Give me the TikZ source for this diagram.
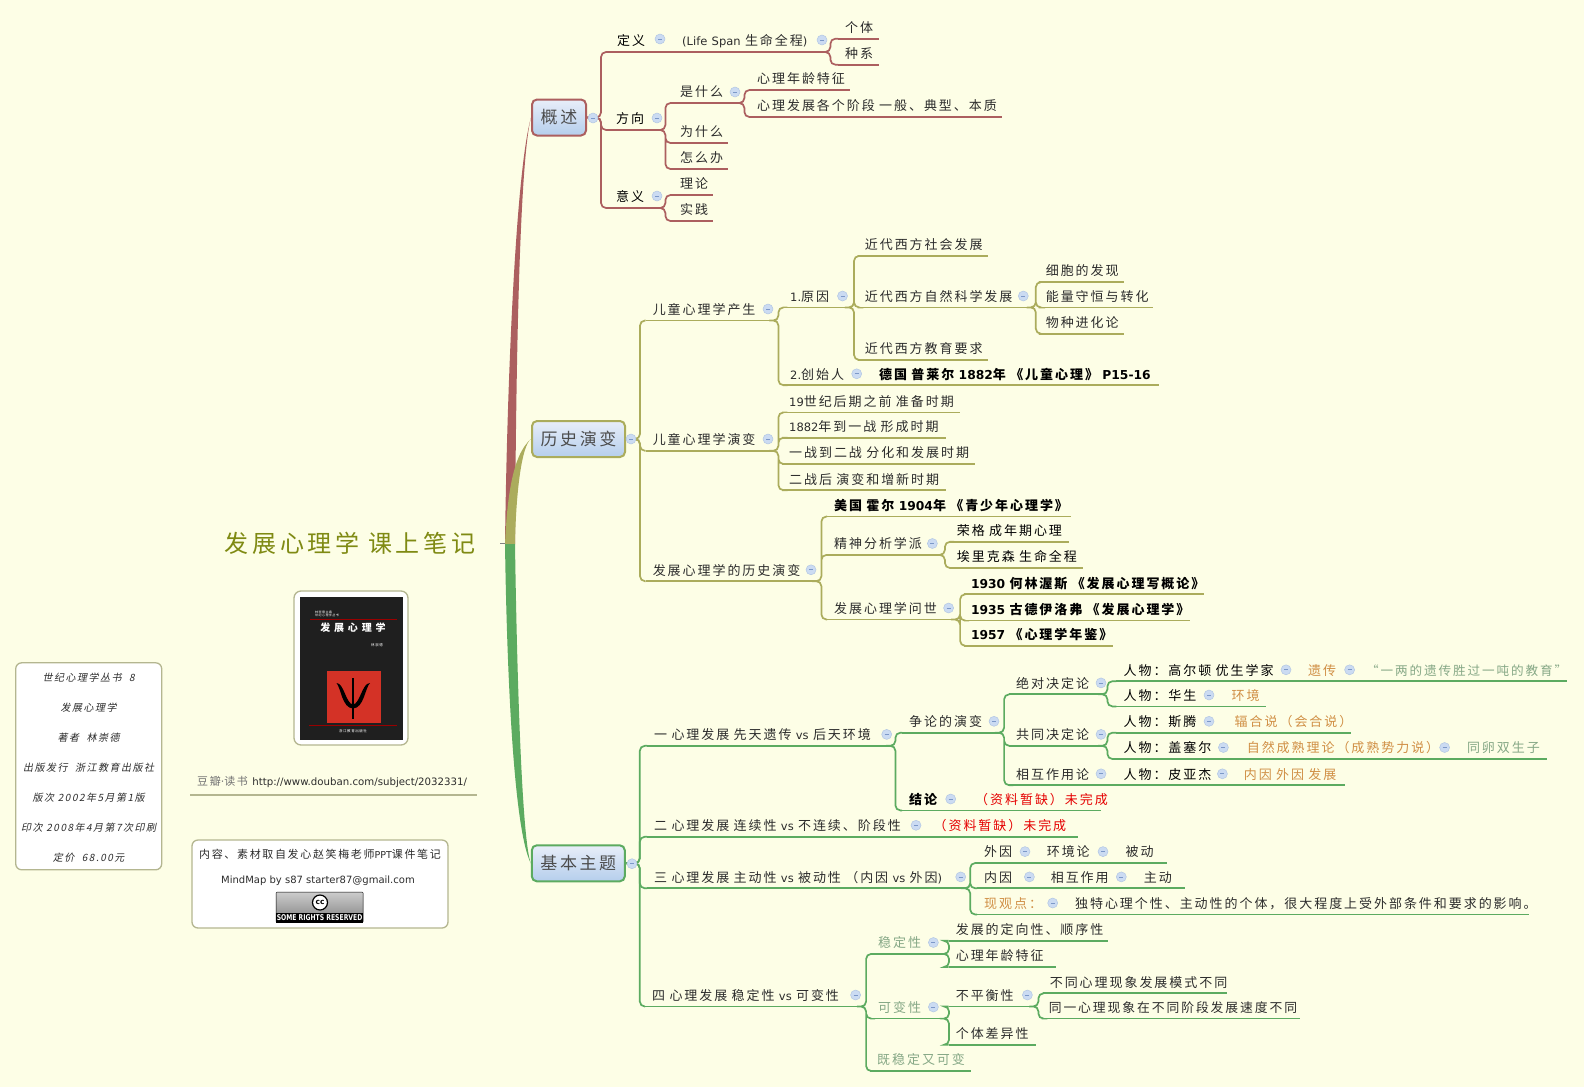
\documentclass[tikz,border=0pt]{standalone}
\usepackage{fontspec}
\setmainfont[LetterSpace=15]{Noto Sans CJK SC}
\newfontfamily\slantfont[FakeSlant=0.2,LetterSpace=15]{Noto Sans CJK SC}
\newfontfamily\enfont{DejaVu Sans}
\providecommand{\en}[1]{{\enfont\fontsize{11.5}{14}\selectfont #1}}
\providecommand{\enb}[1]{{\enfont\fontsize{12.3}{14}\selectfont #1}}
\providecommand{\branchto}[2]{(#1.south east) -- ++(2,0) |- (#2.south west)}
\providecommand{\chainto}[2]{(#1.south east) -- (#2.south west)}
\definecolor{pagebg}{HTML}{FDFEE6}
\definecolor{branchred}{HTML}{AC5F5F}
\definecolor{brancholive}{HTML}{ABAC5C}
\definecolor{branchgreen}{HTML}{5CAB60}
\definecolor{framegray}{HTML}{B4B690}
\definecolor{textdark}{HTML}{2C2C2C}
\definecolor{textorange}{HTML}{D08F45}
\definecolor{textsage}{HTML}{86A886}
\definecolor{titleolive}{HTML}{7F8A13}
\definecolor{foldfill}{HTML}{CBDBF2}
\definecolor{foldline}{HTML}{B3C7E3}
\definecolor{foldminus}{HTML}{7C98C8}
\definecolor{boxtop}{HTML}{E8EEF9}
\definecolor{boxbottom}{HTML}{B5CEEC}
\definecolor{coverred}{HTML}{D43226}
\tikzset{
  topic/.style 2 args={anchor=south west,inner xsep=7pt,inner ysep=0pt,text height=14pt,text depth=6pt,
    align=left,text width=#2,text=textdark,font=\fontsize{13}{16}\selectfont,
    append after command={(\tikzlastnode.south west) edge[draw=#1,line width=1.7pt] (\tikzlastnode.south east)}},
  redtopic/.style={topic={branchred}{#1}},
  olivetopic/.style={topic={brancholive}{#1}},
  greentopic/.style={topic={branchgreen}{#1}},
  boldtopic/.style={font=\fontsize{13}{16}\bfseries\selectfont,text=black},
  redlink/.style={draw=branchred,line width=1.7pt,rounded corners=5pt},
  olivelink/.style={draw=brancholive,line width=1.7pt,rounded corners=5pt},
  greenlink/.style={draw=branchgreen,line width=1.7pt,rounded corners=5pt},
  mainbox/.style={rounded corners=5pt,line width=2pt,top color=boxtop,bottom color=boxbottom,
    minimum height=36pt,inner sep=0pt,text=black!70,font=\fontsize{17}{20}\selectfont},
  fold/.style={circle,minimum size=10pt,inner sep=0pt,fill=foldfill,draw=foldline,line width=.5pt,
    path picture={\draw[foldminus,line width=.7pt] ([xshift=-2pt]path picture bounding box.center) -- ([xshift=2pt]path picture bounding box.center);}},
  notebox/.style={draw=framegray,line width=1.3pt,fill=white,rounded corners=6pt,inner sep=0pt},
  covertext/.style={inner sep=0pt,text=white}
}
\begin{document}
\begin{tikzpicture}[x=1pt,y=-1pt]
    \pgfmathsetmacro{\pagewidth}{1584}
    \pgfmathsetmacro{\pageheight}{1087}
    \pgfmathsetmacro{\boxwidth}{93}
    \fill[pagebg] (0,0) rectangle (\pagewidth,\pageheight);
    \useasboundingbox (0,0) rectangle (\pagewidth,\pageheight);

    % centre
    \node[minimum width=300pt,inner sep=0pt,text=titleolive,font=\fontsize{24}{28}\selectfont] (title) at (350,543) {发展心理学~课上笔记};
    \coordinate (hub) at (505,543);
    \coordinate (hubleft) at (505,544);
    \coordinate (hubright) at (515,544);
    \node[mainbox,draw=branchred,minimum width=54pt] (gaishu) at (559,117.5) {概述};
    \node[mainbox,draw=brancholive,minimum width=\boxwidth*1pt] (yanbianbox) at (578.5,439) {历史演变};
    \node[mainbox,draw=branchgreen,minimum width=\boxwidth*1pt] (jiben) at (578.3,863.3) {基本主题};
    \fill[branchred] (hubleft) .. controls (507,380) and (516,170) .. (gaishu.west) .. controls (520,160) and (516,350) .. (hubright) -- cycle;
    \fill[brancholive] (hubleft) .. controls (507,500) and (512,455) .. (yanbianbox.west) .. controls (522,445) and (516,490) .. (hubright) -- cycle;
    \fill[branchgreen] (hubleft) .. controls (507,680) and (514,830) .. (jiben.west) .. controls (522,840) and (517,680) .. (hubright) -- cycle;
    \draw[black!50,line width=1pt] (title.east) -- (hub);

    % book cover
    \node[notebox,rounded corners=7pt,minimum width=114pt,minimum height=154pt] (coverframe) at (351,668) {};
    \node[fill=black!88,inner sep=0pt,minimum width=103pt,minimum height=143pt] (cover) at (351.5,668.5) {};
    \node[covertext,font=\fontsize{3}{3.6}\selectfont,align=left] (coverseries) at (327,614) {林崇德主编\\世纪心理学丛书};
    \node[coordinate] (linea) at (310,619) {};
    \node[coordinate] (lineb) at (397,619) {};
    \draw[red!60!black,line width=.9pt] (linea) -- (lineb);
    \node[covertext,font=\fontsize{10}{12}\bfseries\selectfont] (covertitle) at (353,628) {发~展~心~理~学};
    \node[covertext,font=\fontsize{3.5}{4}\selectfont] (coverauthor) at (377,645) {林崇德};
    \node[fill=coverred,inner sep=0pt,minimum width=54pt,minimum height=52pt] (coversquare) at (354,697) {};
    \fill[black] (336.5,683) .. controls (344,683) and (346,704) .. (353,704.5) .. controls (360,704) and (362,683) .. (370,683) .. controls (365,688) and (364,708) .. (353,708.5) .. controls (342,708) and (341,688) .. (336.5,683) -- cycle;
    \draw[black,line width=2pt] (353,678) -- (353,719);
    \node[coordinate] (linec) at (309,725) {};
    \node[coordinate] (lined) at (397,725) {};
    \draw[red!60!black,line width=.9pt] (linec) -- (lined);
    \node[covertext,font=\fontsize{3.5}{4}\selectfont] (coverpress) at (353,731) {浙江教育出版社};

    % notes on the left
    \node[topic={framegray}{273},text depth=9pt] (douban) at (190,795) {{\fontsize{11}{12}\selectfont\textcolor{black!55}{豆瓣{\enfont·}读书}}~{\enfont\fontsize{10.2}{12}\selectfont http://www.douban.com/subject/2032331/}};
    \node[notebox,minimum width=146pt,minimum height=207pt] (bookinfo) at (88.7,766.3) {};
    \node[inner sep=0pt,align=center,font=\fontsize{10}{30}\slantfont\selectfont,text=textdark] (bookinfotext) at (88.7,767.8) {世纪心理学丛书~~8\\发展心理学\\著者~~林崇德\\出版发行~~浙江教育出版社\\版次~2002年5月第1版\\印次~2008年4月第7次印刷\\定价~~68.00元};
    \node[notebox,minimum width=256pt,minimum height=88pt] (credit) at (320,884) {};
    \node[inner sep=0pt,font=\fontsize{11}{12}\selectfont,text=textdark] (creditline) at (320,854) {内容、素材取自发心赵笑梅老师{\enfont\fontsize{9.5}{10}\selectfont PPT}课件笔记};
    \node[inner sep=0pt,font=\enfont\fontsize{10}{12}\selectfont,text=textdark] (mindmapby) at (318,881) {MindMap by s87 starter87@gmail.com};
    \node[draw=black,rounded corners=1pt,inner sep=0pt,top color=black!20,bottom color=black!50,minimum width=87pt,minimum height=30.5pt] (ccbadge) at (319.6,907.3) {};
    \node[fill=black,inner sep=0pt,minimum width=87pt,minimum height=10pt,text=white,font=\fontsize{8}{9}\bfseries\selectfont] (ccstrip) at (319.6,917.6) {\scalebox{.76}[1]{\enfont SOME RIGHTS RESERVED}};
    \node[circle,draw=black,line width=1.2pt,fill=white,inner sep=0pt,minimum size=15pt,font=\enfont\fontsize{7.5}{8}\bfseries\selectfont] (cclogo) at (320,902.5) {cc};

    % first branch
    \node[redtopic=51,text=black] (dingyi) at (610,52) {定义};
    \node[redtopic=139] (lifespan) at (675,52) {\en{(Life~Span}~生命全程\en{)}};
    \node[redtopic=27] (geti) at (838,38.7) {个体};
    \node[redtopic=27] (zhongxi) at (838,64.7) {种系};
    \node[redtopic=40,text=black] (fangxiang) at (609,130) {方向};
    \node[redtopic=55] (shishenme) at (673,103) {是什么};
    \node[redtopic=86] (nianling) at (750,90) {心理年龄特征};
    \node[redtopic=238] (jieduan) at (750,117) {心理发展各个阶段~一般、典型、本质};
    \node[redtopic=41] (weishenme) at (673,143) {为什么};
    \node[redtopic=41] (zenmeban) at (673,169) {怎么办};
    \node[redtopic=40,text=black] (yiyi) at (609,208) {意义};
    \node[redtopic=26] (lilun) at (673,195) {理论};
    \node[redtopic=26] (shijian) at (673,221) {实践};
    \draw[redlink] (gaishu.east) -- ++(14,0) |- (dingyi.south west);
    \draw[redlink] (gaishu.east) -- ++(14,0) |- (fangxiang.south west);
    \draw[redlink] (gaishu.east) -- ++(14,0) |- (yiyi.south west);
    \draw[redlink] \chainto{dingyi}{lifespan};
    \draw[redlink] \branchto{lifespan}{geti} \branchto{lifespan}{zhongxi};
    \draw[redlink] \branchto{fangxiang}{shishenme} \branchto{fangxiang}{weishenme} \branchto{fangxiang}{zenmeban};
    \draw[redlink] \branchto{shishenme}{nianling} \branchto{shishenme}{jieduan};
    \draw[redlink] \branchto{yiyi}{lilun} \branchto{yiyi}{shijian};

    % second branch
    \node[olivetopic=116.4] (chansheng) at (645.6,320.5) {儿童心理学产生};
    \node[olivetopic=54.6] (yuanyin) at (783,307.4) {\en{1.}原因};
    \node[olivetopic=116.3] (shehui) at (857.7,255.9) {近代西方社会发展};
    \node[olivetopic=161.7] (ziran) at (857.7,307.4) {近代西方自然科学发展};
    \node[olivetopic=70.7] (xibao) at (1038.6,282.1) {细胞的发现};
    \node[olivetopic=100] (nengliang) at (1038.6,307.4) {能量守恒与转化};
    \node[olivetopic=70.7] (wuzhong) at (1038.6,333.7) {物种进化论};
    \node[olivetopic=116.3] (jiaoyu) at (857.7,359.9) {近代西方教育要求};
    \node[olivetopic=75] (chuangshi) at (783,385.2) {\en{2.}创始人};
    \node[olivetopic=272.7,boldtopic] (preyer) at (872,385.2) {德国~普莱尔~\enb{1882}年~《儿童心理》~\enb{P15-16}};
    \node[olivetopic=116.4] (ertong) at (645.6,450.8) {儿童心理学演变};
    \node[olivetopic=163.7] (zhunbei) at (782,412.4) {\en{19}世纪后期之前~准备时期};
    \node[olivetopic=149.5] (xingcheng) at (782,437.7) {\en{1882}年到一战~形成时期};
    \node[olivetopic=179] (fenhua) at (782,464) {一战到二战~分化和发展时期};
    \node[olivetopic=149.5] (zengxin) at (782,490.2) {二战后~演变和增新时期};
    \node[olivetopic=159.4] (lishi) at (645.6,581.2) {发展心理学的历史演变};
    \node[olivetopic=230,boldtopic] (huoer) at (827,516.5) {美国~霍尔~\enb{1904}年~《青少年心理学》};
    \node[olivetopic=101.5] (jingshen) at (827,554.9) {精神分析学派};
    \node[olivetopic=105,text=black] (rongge) at (949.7,541.8) {荣格~成年期心理};
    \node[olivetopic=119.3,text=black] (erikson) at (949.7,568) {埃里克森~生命全程};
    \node[olivetopic=116.7] (wenshi) at (827,619.5) {发展心理学问世};
    \node[olivetopic=226.2,boldtopic] (hewo) at (963.8,594.3) {\enb{1930}~何林渥斯~《发展心理写概论》};
    \node[olivetopic=212.2,boldtopic] (gude) at (963.8,620.6) {\enb{1935}~古德伊洛弗~《发展心理学》};
    \node[olivetopic=135.2,boldtopic] (nianjian) at (963.8,645.8) {\enb{1957}~《心理学年鉴》};
    \draw[olivelink] (yanbianbox.east) -- ++(14,0) |- (chansheng.south west);
    \draw[olivelink] (yanbianbox.east) -- ++(14,0) |- (ertong.south west);
    \draw[olivelink] (yanbianbox.east) -- ++(14,0) |- (lishi.south west);
    \draw[olivelink] \branchto{chansheng}{yuanyin} \branchto{chansheng}{chuangshi};
    \draw[olivelink] \branchto{yuanyin}{shehui} \branchto{yuanyin}{ziran} \branchto{yuanyin}{jiaoyu};
    \draw[olivelink] \branchto{ziran}{xibao} \branchto{ziran}{nengliang} \branchto{ziran}{wuzhong};
    \draw[olivelink] \chainto{chuangshi}{preyer};
    \draw[olivelink] \branchto{ertong}{zhunbei} \branchto{ertong}{xingcheng} \branchto{ertong}{fenhua} \branchto{ertong}{zengxin};
    \draw[olivelink] \branchto{lishi}{huoer} \branchto{lishi}{jingshen} \branchto{lishi}{wenshi};
    \draw[olivelink] \branchto{jingshen}{rongge} \branchto{jingshen}{erikson};
    \draw[olivelink] \branchto{wenshi}{hewo} \branchto{wenshi}{gude} \branchto{wenshi}{nianjian};

    % third branch
    \node[greentopic=232] (xiantian) at (647,745.8) {一~心理发展~先天遗传~\en{vs}~后天环境};
    \node[greentopic=85.7] (zhenglun) at (902,732.7) {争论的演变};
    \node[greentopic=82] (juedui) at (1009,694.3) {绝对决定论};
    \node[greentopic=170.6,text=black] (galton) at (1116.4,681.2) {人物：高尔顿~优生学家};
    \node[greentopic=44,text=textorange] (yichuan) at (1301,681.2) {遗传};
    \node[greentopic=194,text=textsage,font=\fontsize{12.6}{16}\selectfont] (yiliang) at (1359,681.2) {“一两的遗传胜过一吨的教育”};
    \node[greentopic=94,text=black] (huasheng) at (1116.4,706.4) {人物：华生};
    \node[greentopic=27.4,text=textorange] (huanjing) at (1224.4,706.4) {环境};
    \node[greentopic=82] (gongtong) at (1009,745.8) {共同决定论};
    \node[greentopic=97,text=black] (siteng) at (1116.4,732.7) {人物：斯腾};
    \node[greentopic=109.1,text=textorange] (fuhe) at (1227.5,732.7) {辐合说（会合说）};
    \node[greentopic=109,text=black] (gesell) at (1116.4,759) {人物：盖塞尔};
    \node[greentopic=206,text=textorange] (chengshu) at (1239.6,759) {自然成熟理论（成熟势力说）};
    \node[greentopic=72.8,text=textsage] (luansheng) at (1459.8,759) {同卵双生子};
    \node[greentopic=93] (xianghu) at (1009,785.2) {相互作用论};
    \node[greentopic=106,text=black] (piaget) at (1116.4,785.2) {人物：皮亚杰};
    \node[greentopic=94,text=textorange] (neiwai) at (1236.6,785.2) {内因~外因~发展};
    \node[greentopic=52,boldtopic] (jielun) at (902,810.4) {结论};
    \node[greentopic=119,text=red!90!black] (quea) at (968,810.4) {（资料暂缺）未完成};
    \node[greentopic=265] (lianxu) at (647,836.7) {二~心理发展~连续性~\en{vs}~不连续、阶段性};
    \node[greentopic=137.6,text=red!90!black] (queb) at (926.4,836.7) {（资料暂缺）未完成};
    \node[greentopic=306.8] (zhudong) at (647,888.3) {三~心理发展~主动性~\en{vs}~被动性~（内因~\en{vs}~外因\en{)}};
    \node[greentopic=48.6] (waiyin) at (977,863) {外因};
    \node[greentopic=64.8] (jinglun) at (1039.6,863) {环境论};
    \node[greentopic=34.4] (beidong) at (1118.4,863) {被动};
    \node[greentopic=52.6] (neiyin) at (977,888.3) {内因};
    \node[greentopic=79] (zuoyong) at (1043.6,888.3) {相互作用};
    \node[greentopic=34.4] (zhudongb) at (1136.6,888.3) {主动};
    \node[greentopic=76.9,text=textorange] (guandian) at (977,914.5) {现观点：};
    \node[greentopic=446.5] (dute) at (1067.9,914.5) {独特心理个性、主动性的个体，很大程度上受外部条件和要求的影响。};
    \node[greentopic=204.7] (wendingxing) at (645,1006.5) {四~心理发展~稳定性~\en{vs}~可变性};
    \node[greentopic=61.6,text=textsage] (wending) at (871,953.9) {稳定性};
    \node[greentopic=145.4] (dingxiang) at (948.6,940.8) {发展的定向性、顺序性};
    \node[greentopic=93.1] (nianlingb) at (948.6,967) {心理年龄特征};
    \node[greentopic=61.6,text=textsage] (kebian) at (871,1018.6) {可变性};
    \node[greentopic=73.4] (bupingheng) at (948.6,1006.4) {不平衡性};
    \node[greentopic=169.8] (moshi) at (1042.6,993.3) {不同心理现象发展模式不同};
    \node[greentopic=244.4,font=\fontsize{12.8}{16}\selectfont] (sudu) at (1041.6,1018.6) {同一心理现象在不同阶段发展速度不同};
    \node[greentopic=72.9] (chayi) at (948.6,1044.8) {个体差异性};
    \node[greentopic=86.8,text=textsage] (jiwen) at (870,1071) {既稳定又可变};
    \draw[greenlink] (jiben.east) -- ++(14,0) |- (xiantian.south west);
    \draw[greenlink] (jiben.east) -- ++(14,0) |- (lianxu.south west);
    \draw[greenlink] (jiben.east) -- ++(14,0) |- (zhudong.south west);
    \draw[greenlink] (jiben.east) -- ++(14,0) |- (wendingxing.south west);
    \draw[greenlink] \branchto{xiantian}{zhenglun} \branchto{xiantian}{jielun};
    \draw[greenlink] \branchto{zhenglun}{juedui} \branchto{zhenglun}{gongtong} \branchto{zhenglun}{xianghu};
    \draw[greenlink] \branchto{juedui}{galton} \branchto{juedui}{huasheng};
    \draw[greenlink] \branchto{gongtong}{siteng} \branchto{gongtong}{gesell};
    \draw[greenlink] \chainto{galton}{yichuan} \chainto{yichuan}{yiliang};
    \draw[greenlink] \chainto{huasheng}{huanjing};
    \draw[greenlink] \chainto{siteng}{fuhe};
    \draw[greenlink] \chainto{gesell}{chengshu} \chainto{chengshu}{luansheng};
    \draw[greenlink] \chainto{xianghu}{piaget} \chainto{piaget}{neiwai};
    \draw[greenlink] \chainto{jielun}{quea};
    \draw[greenlink] \chainto{lianxu}{queb};
    \draw[greenlink] \branchto{zhudong}{waiyin} \branchto{zhudong}{neiyin} \branchto{zhudong}{guandian};
    \draw[greenlink] \chainto{waiyin}{jinglun} \chainto{jinglun}{beidong};
    \draw[greenlink] \chainto{neiyin}{zuoyong} \chainto{zuoyong}{zhudongb};
    \draw[greenlink] \chainto{guandian}{dute};
    \draw[greenlink] \branchto{wendingxing}{wending} \branchto{wendingxing}{kebian} \branchto{wendingxing}{jiwen};
    \draw[greenlink] \branchto{wending}{dingxiang} \branchto{wending}{nianlingb};
    \draw[greenlink] \branchto{kebian}{bupingheng} \branchto{kebian}{chayi};
    \draw[greenlink] \branchto{bupingheng}{moshi} \branchto{bupingheng}{sudu};

    % fold marks
    \node[fold] (fgaishu) at (593,118) {};
    \node[fold] (fdingyi) at (660,39) {};
    \node[fold] (flifespan) at (822,40) {};
    \node[fold] (ffangxiang) at (657,118) {};
    \node[fold] (fshishenme) at (735,92) {};
    \node[fold] (fyiyi) at (657,196) {};
    \node[fold] (fyanbian) at (631,439) {};
    \node[fold] (fchansheng) at (768,309) {};
    \node[fold] (fyuanyin) at (842.5,296) {};
    \node[fold] (fziran) at (1023.3,296) {};
    \node[fold] (fchuangshi) at (856.7,373.8) {};
    \node[fold] (fertong) at (768,439) {};
    \node[fold] (flishi) at (811,569.8) {};
    \node[fold] (fjingshen) at (932.4,543.5) {};
    \node[fold] (fwenshi) at (948.6,608) {};
    \node[fold] (fjiben) at (632,863.7) {};
    \node[fold] (fxiantian) at (886.7,734.4) {};
    \node[fold] (fzhenglun) at (994,721.3) {};
    \node[fold] (fjuedui) at (1101,682.9) {};
    \node[fold] (fgalton) at (1286,669.8) {};
    \node[fold] (fyichuan) at (1349.6,669.8) {};
    \node[fold] (fhuasheng) at (1209,695) {};
    \node[fold] (fgongtong) at (1101,734.4) {};
    \node[fold] (fsiteng) at (1209,721.3) {};
    \node[fold] (fgesell) at (1223.4,747.5) {};
    \node[fold] (fchengshu) at (1444.6,747.5) {};
    \node[fold] (fxianghu) at (1101,773.8) {};
    \node[fold] (fpiaget) at (1222.4,773.8) {};
    \node[fold] (fjielun) at (950.7,799) {};
    \node[fold] (flianxu) at (916,825.3) {};
    \node[fold] (fzhudong) at (960.7,876.9) {};
    \node[fold] (fwaiyin) at (1025,851.6) {};
    \node[fold] (fjinglun) at (1103,851.6) {};
    \node[fold] (fneiyin) at (1029.4,876.9) {};
    \node[fold] (fzuoyong) at (1121.3,876.9) {};
    \node[fold] (fguandian) at (1052.7,903) {};
    \node[fold] (fwendingxing) at (855.6,995) {};
    \node[fold] (fwending) at (933.4,942.5) {};
    \node[fold] (fkebian) at (933.4,1007) {};
    \node[fold] (fbupingheng) at (1027.4,995) {};
\end{tikzpicture}
\end{document}
